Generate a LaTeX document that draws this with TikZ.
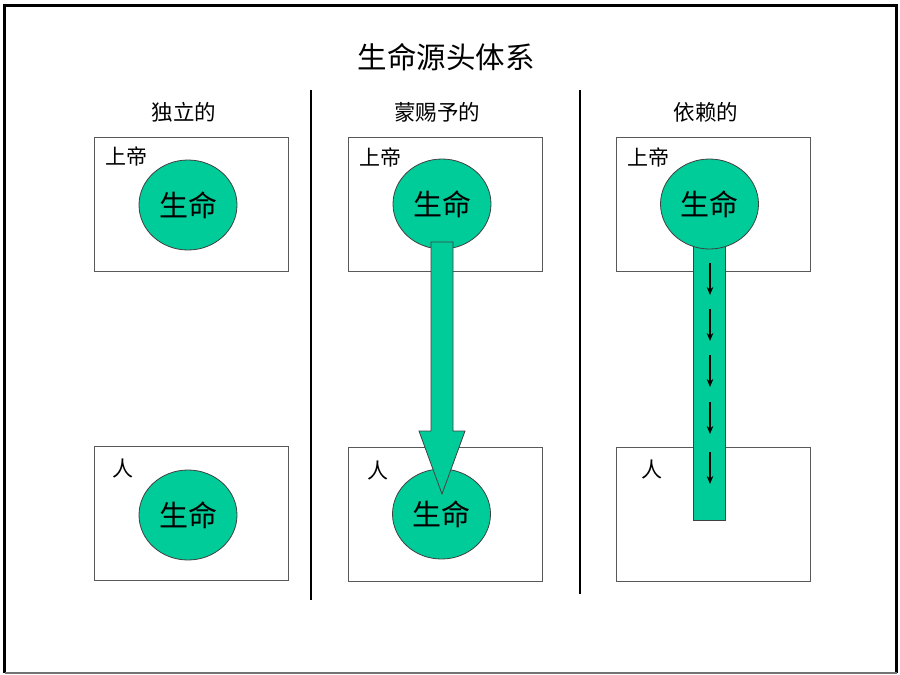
\documentclass[tikz,border=0pt]{standalone}
\usepackage{fontspec}
\newfontfamily\cjk{Noto Sans CJK SC}
\usetikzlibrary{shapes.geometric,arrows.meta}
\definecolor{lifegreen}{RGB}{0,204,153}
\begin{document}
\begin{tikzpicture}[x=1pt,y=-1pt,
  realm/.style={draw=black!65,line width=1pt,rectangle,minimum width=194pt,minimum height=134pt,inner sep=0pt},
  life/.style={draw=black!75,line width=0.8pt,fill=lifegreen,ellipse,minimum width=98pt,minimum height=90pt,inner sep=0pt,font=\cjk\fontsize{29}{29}\selectfont},
  tag/.style={font=\cjk\fontsize{21}{21}\selectfont,inner sep=0pt},
  head/.style={font=\cjk\fontsize{21.5}{21.5}\selectfont,inner sep=0pt},
  flow/.style={line width=1.3pt,-{Stealth[length=8pt,width=6.5pt]}}]
\useasboundingbox (0,0) rectangle (900,675);

% outer frame
\draw[line width=3pt] (4.5,673) -- (4.5,5.5) -- (896.5,5.5) -- (896.5,673);
\draw[black!55,line width=1.5pt] (4.5,673) -- (896.5,673);

\node[font=\cjk\fontsize{29.5}{29.5}\selectfont,inner sep=0pt] (title) at (446,57) {生命源头体系};

% separators
\draw[line width=1.8pt] (311,90) -- (311,600);
\draw[line width=1.8pt] (580,90) -- (580,594);

% column 1: independent
\node[head] (h1) at (184,112) {独立的};
\node[realm] (god1) at (191.5,204) {};
\node[realm] (man1) at (191.5,513.5) {};
\node[tag,anchor=west] (g1) at (105.5,156) {上帝};
\node[tag] (m1) at (123,469) {人};
\node[life] (lg1) at (188,205) {生命};
\node[life] (lm1) at (188,515) {生命};

% column 2: bestowed
\node[head] (h2) at (437,112) {蒙赐予的};
\node[realm] (god2) at (445.5,204) {};
\node[realm] (man2) at (445.5,514) {};
\node[tag,anchor=west] (g2) at (359.5,157) {上帝};
\node[tag] (m2) at (378,471) {人};
\node[life] (lg2) at (442,204) {生命};
\node[life] (lm2) at (441.5,514) {生命};
\draw[draw=black!75,line width=0.8pt,fill=lifegreen] (431,242) -- (453,242) -- (453,431)
  -- (465,431) -- (442,494) -- (419,431) -- (431,431) -- cycle;

% column 3: dependent
\node[head] (h3) at (706,112) {依赖的};
\node[realm] (god3) at (713.5,204) {};
\node[realm] (man3) at (713.5,514) {};
\node[tag,anchor=west] (g3) at (627.5,157) {上帝};
\node[tag] (m3) at (652,470) {人};
\fill[lifegreen,draw=black!75,line width=0.8pt] (693,245) rectangle (725,520);
\node[life] (lg3) at (709.5,204) {生命};
\foreach \y in {263,309,355,402,452}
  \draw[flow] (710,\y) -- (710,\y+32);
\end{tikzpicture}
\end{document}
